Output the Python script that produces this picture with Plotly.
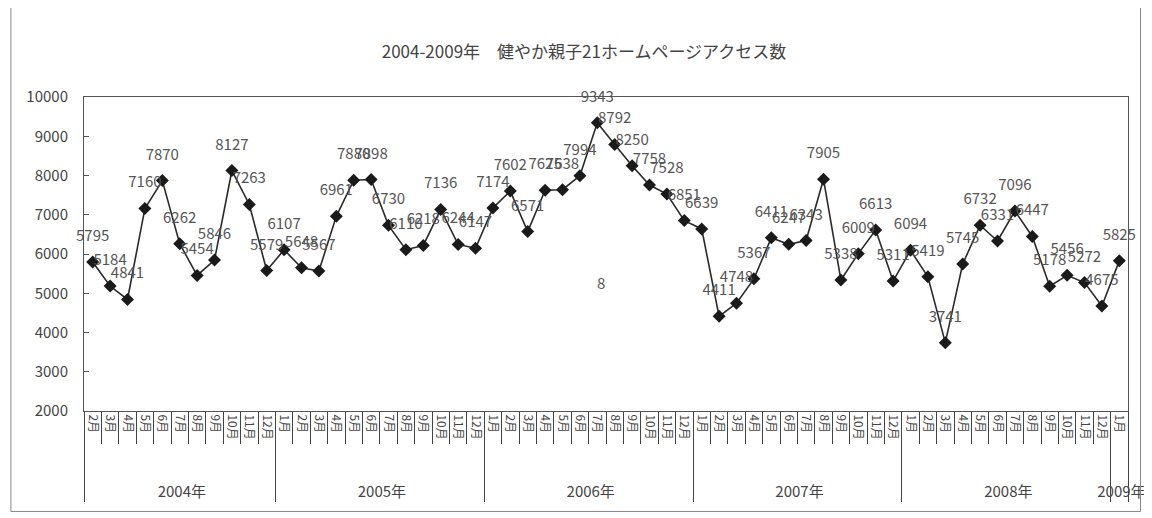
import plotly.graph_objects as go

years = ["2004年"] * 11 + ["2005年"] * 12 + ["2006年"] * 12 + ["2007年"] * 12 + ["2008年"] * 12 + ["2009年"]
# 2004 labels carry a trailing space so Plotly keeps Jan before Feb in later years
months = [f"{m}月 " for m in range(2, 13)] + [f"{m}月" for m in range(1, 13)] * 4 + ["1月"]

access = [
    5795, 5184, 4841, 7160, 7870, 6262, 5454, 5846, 8127, 7263, 5579,
    6107, 5648, 5567, 6961, 7880, 7898, 6730, 6110, 6218, 7136, 6244, 6147,
    7174, 7602, 6571, 7625, 7638, 7994, 9343, 8792, 8250, 7758, 7528, 6851,
    6639, 4411, 4748, 5367, 6411, 6247, 6343, 7905, 5338, 6009, 6613, 5311,
    6094, 5419, 3741, 5745, 6732, 6331, 7096, 6447, 5178, 5456, 5272, 4675,
    5825,
]

title_text = "2004-2009年　健やか親子21ホームページアクセス数"
font_family = "Noto Sans CJK JP, DejaVu Sans, sans-serif"

year_labels = ["<br><br><span style='font-size:15px'>" + y + "</span>" for y in years]

fig = go.Figure()
fig.add_trace(go.Scatter(
    x=[year_labels, months],
    y=access,
    mode="lines+markers",
    line=dict(color="#2a2a2a", width=1.6),
    marker=dict(symbol="diamond", size=10, color="#1a1a1a"),
    cliponaxis=False,
    showlegend=False,
))
# data labels (placed with a larger invisible marker to lift them above the points)
fig.add_trace(go.Scatter(
    x=[year_labels, months],
    y=access,
    mode="markers+text",
    text=[str(v) for v in access],
    textposition="top center",
    textfont=dict(size=15, color="#555555", family=font_family),
    marker=dict(size=26, color="rgba(0,0,0,0)"),
    cliponaxis=False,
    showlegend=False,
    hoverinfo="skip",
))

fig.add_annotation(
    x=0.495, xref="paper", y=5270, yref="y",
    text="8", showarrow=False,
    font=dict(size=15, color="#555555", family=font_family),
)

fig.add_shape(
    type="rect", xref="paper", yref="paper",
    x0=-0.07, x1=1.012, y0=-0.32, y1=1.29,
    line=dict(color="#888888", width=1),
)

fig.update_layout(
    width=1152, height=518,
    margin=dict(l=76, r=32, t=89, b=115),
    paper_bgcolor="white",
    plot_bgcolor="white",
    font=dict(family=font_family, size=13, color="#444444"),
    title=dict(
        text=title_text,
        x=0.5, xanchor="center",
        y=0.915, yanchor="middle",
        font=dict(size=17, color="#444444", family=font_family),
    ),
)

fig.update_xaxes(
    type="multicategory",
    range=[-0.5, len(access) - 0.5],
    tickmode="linear", tick0=0, dtick=1,
    showline=True, linecolor="#555555", linewidth=1, mirror=True,
    ticks="outside", ticklen=32, tickcolor="#444444", tickwidth=1,
    tickson="boundaries",
    tickangle=90,
    tickfont=dict(size=12, color="#444444"),
    showdividers=True, dividercolor="#444444", dividerwidth=1,
    showgrid=False,
)

fig.update_yaxes(
    range=[2000, 10000], dtick=1000, tickformat="d",
    showline=True, linecolor="#555555", linewidth=1, mirror=True,
    ticks="inside", ticklen=5, tickcolor="#555555",
    ticklabelstandoff=12,
    showgrid=False, zeroline=False,
    tickfont=dict(size=15, color="#444444"),
)

fig.write_html("out.html")
